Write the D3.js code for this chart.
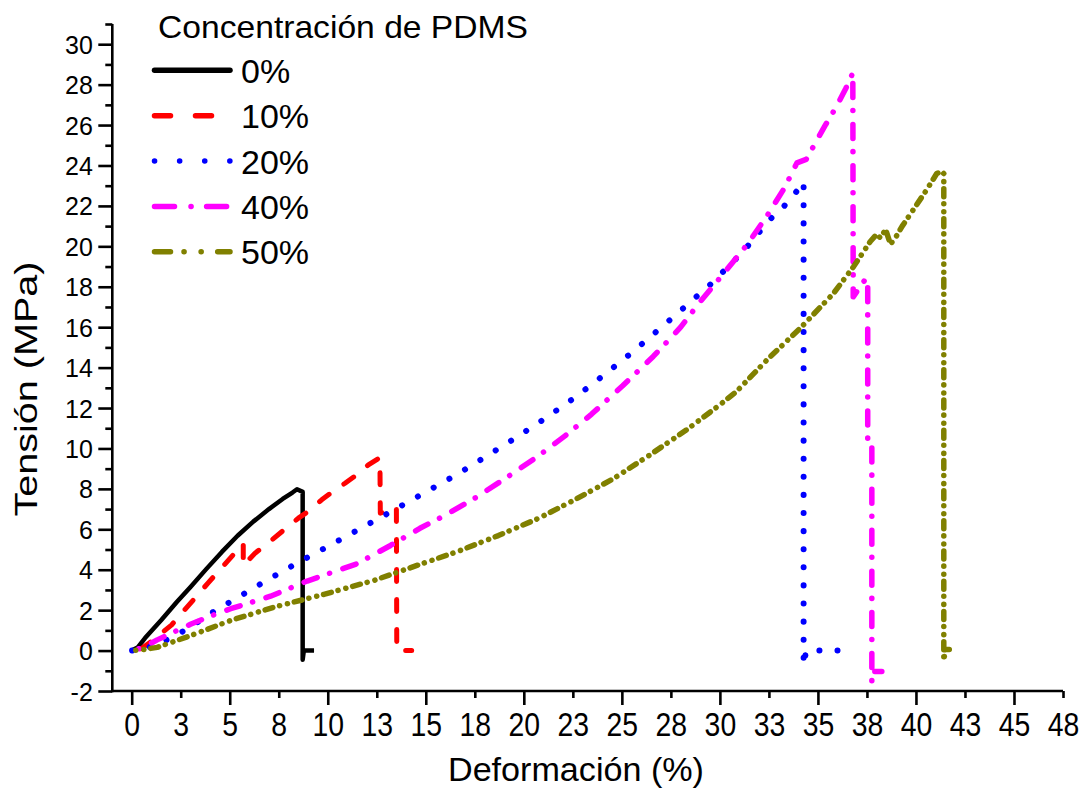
<!DOCTYPE html>
<html>
<head>
<meta charset="utf-8">
<script src="https://cdn.jsdelivr.net/npm/d3@7"></script>
<style>
  body { margin: 0; background: #fff; }
  text { font-family: "Liberation Sans", Arial, Helvetica, sans-serif; fill: #000; }
</style>
</head>
<body>
<svg id="chart" width="1085" height="789"></svg>
<script>
// Stress–strain curves for PDMS concentrations
const seriesNames = ["0%", "10%", "20%", "40%", "50%"];
const seriesColors = ["#000000", "#ff0000", "#0000ff", "#ff00ff", "#808000"];

const strain0 = [0, 0.3, 0.68, 1.5, 2.3, 3.0, 3.8, 4.6, 5.4, 6.2, 7.0, 7.7, 8.2, 8.43, 8.72, 8.72, 8.78, 9.3];
const stress0 = [0, 0.15, 0.62, 1.5, 2.4, 3.15, 4.03, 4.88, 5.68, 6.38, 7.0, 7.5, 7.82, 7.98, 7.85, -0.45, 0, 0];

const strain10 = [0, 0.5, 1.0, 1.5, 2.04, 2.55, 3.23, 3.9, 4.59, 5.18, 5.69, 5.69, 6.29, 7.05, 7.8, 8.5, 9.0, 9.69, 10.37, 10.88, 11.47, 12.07, 12.66, 12.68, 12.85, 13.5, 13.52, 14.28];
const stress10 = [0, 0.1, 0.45, 0.85, 1.27, 1.85, 2.6, 3.35, 4.1, 4.74, 5.3, 4.2, 4.82, 5.39, 6.0, 6.55, 6.88, 7.46, 7.95, 8.28, 8.69, 9.19, 9.55, 6.8, 6.85, 7.1, 0, 0];

const strain20 = [0, 0.5, 1.05, 2.0, 2.83, 3.57, 4.41, 5.25, 6.07, 6.88, 7.71, 8.53, 9.89, 11.5, 13.2, 14.9, 16.62, 17.93, 19.51, 21.11, 22.6, 24.15, 25.58, 27.5, 29.5, 31.2, 31.97, 32.7, 33.24, 33.75, 34.18, 34.27, 34.27, 34.4, 36.0];
const stress20 = [0, 0.05, 0.22, 0.62, 1.07, 1.54, 2.07, 2.53, 3.01, 3.47, 3.93, 4.38, 5.09, 5.95, 6.86, 7.79, 8.73, 9.52, 10.48, 11.5, 12.52, 13.68, 14.8, 16.4, 18.1, 19.75, 20.66, 21.48, 21.95, 22.52, 23.05, 23.2, -0.74, 0, 0];

const strain40 = [0, 0.6, 1.3, 2.0, 3.0, 4.0, 5.05, 7.08, 8.95, 11.5, 13.2, 14.7, 15.8, 17.42, 19.12, 20.7, 22.1, 23.46, 25.04, 26.6, 28.0, 29.0, 30.28, 31.4, 32.4, 33.3, 33.93, 34.4, 35.37, 35.96, 36.42, 36.7, 36.78, 36.8, 37.15, 37.44, 37.54, 37.54, 37.75, 37.75, 37.9, 38.26];
const stress40 = [0, 0.15, 0.53, 0.85, 1.3, 1.7, 2.07, 2.69, 3.44, 4.3, 5.2, 6.05, 6.6, 7.49, 8.56, 9.6, 10.62, 11.7, 13.1, 14.55, 16.0, 17.27, 18.76, 20.1, 21.5, 22.9, 24.13, 24.3, 25.98, 26.94, 27.81, 28.4, 28.6, 17.5, 18.0, 18.4, 18.4, 10.4, 10.4, -1.6, -1.04, -1.04];

const strain50 = [0, 0.6, 1.3, 3.0, 5.05, 7.26, 9.8, 12.35, 14.87, 16.62, 18.7, 20.77, 22.69, 24.56, 26.43, 28.3, 30.0, 30.85, 32.4, 34.1, 35.8, 36.82, 37.67, 38.0, 38.2, 38.45, 38.7, 39.0, 39.3, 39.87, 40.55, 41.06, 41.32, 41.42, 41.42, 41.5, 41.7];
const stress50 = [0, 0.05, 0.16, 0.74, 1.49, 2.15, 2.78, 3.47, 4.32, 4.9, 5.69, 6.55, 7.51, 8.5, 9.68, 10.92, 12.16, 12.82, 14.38, 15.95, 17.68, 19.0, 20.24, 20.6, 20.4, 20.85, 20.1, 20.5, 21.0, 21.82, 22.8, 23.6, 23.71, 23.6, -0.5, 0.05, 0.05];

const xTickValues = [0, 2.5, 5, 7.5, 10, 12.5, 15, 17.5, 20, 22.5, 25, 27.5, 30, 32.5, 35, 37.5, 40, 42.5, 45, 47.5];
const xTickLabels = ["0", "3", "5", "8", "10", "13", "15", "18", "20", "23", "25", "28", "30", "33", "35", "38", "40", "43", "45", "48"];
const yTickValues = d3.range(-2, 32, 1);

const legendTitle = "Concentración de PDMS";
const xTitle = "Deformación (%)";
const yTitle = "Tensión (MPa)";

// line styles: plot dash patterns and the longer legend variants
const plotDash = [null, "12,18", "0.1,18", "14,13,0.1,14", "8,7,0.1,8,0.1,7"];
const legendDash = [null, "16,25", "0.1,25", "20,16.5,0.1,15.5", "16,13.5,0.1,17,0.1,16.5"];
const widths = [4.5, 5, 6, 5.5, 5.5];

const svg = d3.select("#chart");

const x = d3.scaleLinear().domain([0, 47.5]).range([131.7, 1063]);
const y = d3.scaleLinear().domain([-2, 31]).range([691, 24]);

// x axis: major ticks every 5, minor at the half steps, all labelled
const xAxis = d3.axisBottom(x)
  .tickValues(xTickValues)
  .tickSize(14)
  .tickSizeOuter(0)
  .tickFormat((d, i) => xTickLabels[i]);

const gx = svg.append("g").attr("transform", `translate(0,${y(-2)})`).call(xAxis);
gx.select(".domain").remove();
gx.selectAll(".tick line")
  .attr("stroke", "#000").attr("stroke-width", 2.6)
  .attr("y2", d => (d % 5 === 0 ? 14 : 7));
gx.selectAll(".tick text")
  .attr("y", 45).attr("dy", null)
  .attr("transform", "scale(0.86,1)")
  .style("font-size", "33px");

// y axis: labelled even values, short ticks on odd values
const yAxis = d3.axisLeft(y)
  .tickValues(yTickValues)
  .tickSize(14)
  .tickSizeOuter(0)
  .tickFormat(d => (d % 2 === 0 ? d : ""));

const gy = svg.append("g").attr("transform", `translate(112.3,0)`).call(yAxis);
gy.select(".domain").remove();
gy.selectAll(".tick line")
  .attr("stroke", "#000").attr("stroke-width", 2.6)
  .attr("x2", d => (d % 2 === 0 ? -14 : -7));
gy.selectAll(".tick text")
  .attr("x", -19.5).attr("dy", "0.36em")
  .style("font-size", "25px");

// axis lines
svg.append("line")
  .attr("x1", 112.3).attr("x2", x(47.5))
  .attr("y1", y(-2)).attr("y2", y(-2))
  .attr("stroke", "#000").attr("stroke-width", 2.6);
svg.append("line")
  .attr("x1", 112.3).attr("x2", 112.3)
  .attr("y1", y(31)).attr("y2", y(-2) + 1.3)
  .attr("stroke", "#000").attr("stroke-width", 2.6);

// curves
const series = [
  [strain0, stress0],
  [strain10, stress10],
  [strain20, stress20],
  [strain40, stress40],
  [strain50, stress50]
];

const line = d3.line().x(d => x(d[0])).y(d => y(d[1]));

series.forEach(([sx, sy], i) => {
  const path = svg.append("path")
    .datum(d3.zip(sx, sy))
    .attr("d", line)
    .attr("fill", "none")
    .attr("stroke", seriesColors[i])
    .attr("stroke-width", widths[i])
    .attr("stroke-linecap", i === 0 ? "butt" : "round")
    .attr("stroke-linejoin", "round")
    .attr("stroke-dasharray", plotDash[i]);
  if (plotDash[i]) {
    // shift the pattern so the curve ends inside its first dash
    const parts = plotDash[i].split(",").map(Number);
    const period = d3.sum(parts);
    const L = path.node().getTotalLength();
    const offset = (((parts[0] / 2 - L) % period) + period) % period;
    path.attr("stroke-dashoffset", offset);
  }
});

// legend
svg.append("text")
  .attr("x", 158).attr("y", 37.7)
  .attr("textLength", 370).attr("lengthAdjust", "spacingAndGlyphs")
  .style("font-size", "32px")
  .text(legendTitle);

const legendY = d3.scalePoint().domain(seriesNames).range([70.3, 251.8]);

seriesNames.forEach((name, i) => {
  const ly = legendY(name);
  svg.append("line")
    .attr("x1", 154.5).attr("x2", 230)
    .attr("y1", ly).attr("y2", ly)
    .attr("stroke", seriesColors[i])
    .attr("stroke-width", 5.5)
    .attr("stroke-linecap", "round")
    .attr("stroke-dasharray", legendDash[i]);
  svg.append("text")
    .attr("x", 241).attr("y", ly + 12.5)
    .style("font-size", "34px")
    .text(name);
});

// axis titles
svg.append("text")
  .attr("x", 576).attr("y", 781)
  .attr("text-anchor", "middle")
  .attr("textLength", 256).attr("lengthAdjust", "spacingAndGlyphs")
  .style("font-size", "33px")
  .text(xTitle);

svg.append("text")
  .attr("transform", "translate(37,389) rotate(-90)")
  .attr("text-anchor", "middle")
  .attr("textLength", 255).attr("lengthAdjust", "spacingAndGlyphs")
  .style("font-size", "31px")
  .text(yTitle);
</script>
</body>
</html>
